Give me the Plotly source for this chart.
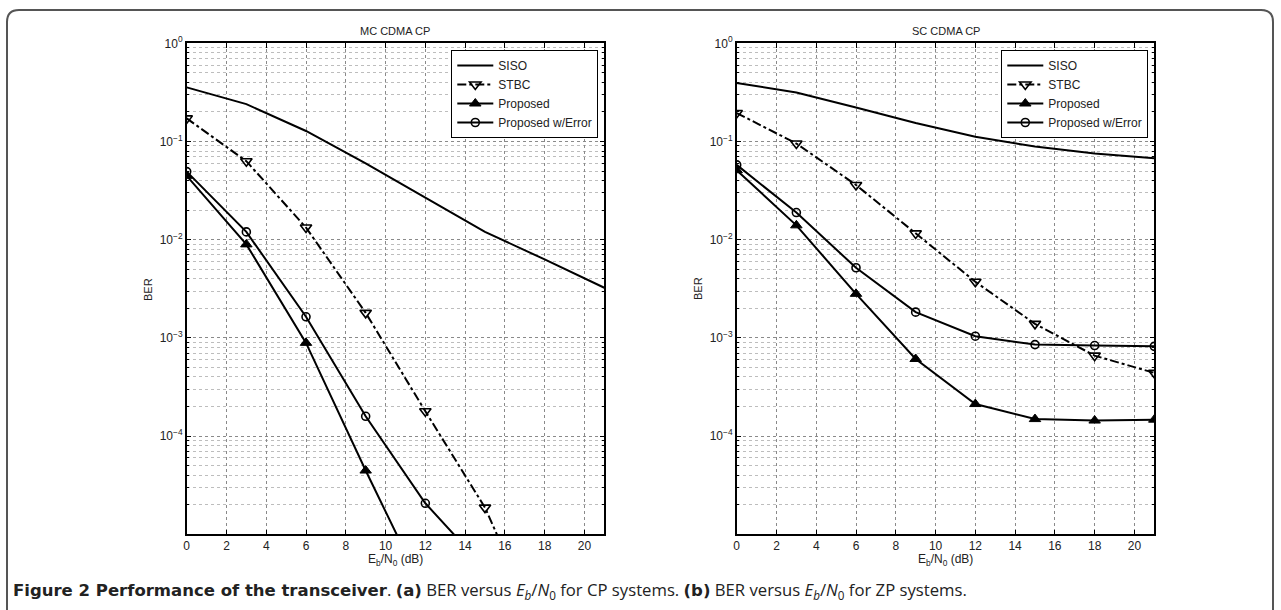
import plotly.graph_objects as go

FW, FH = 1281, 610

# ---------------- data ----------------
ebn0 = [0, 3, 6, 9, 12, 15, 18, 21]

# (a) MC CDMA CP
mc_siso = [0.356, 0.240, 0.128, 0.060, 0.0268, 0.0120, 0.0063, 0.00324]
mc_stbc = [0.172, 0.063, 0.0133, 0.0018, 1.79e-4, 1.87e-5, 8e-7]
mc_prop = [0.0447, 0.00896, 8.9e-4, 4.46e-5, 2.5e-6]
mc_err = [0.0494, 0.0120, 1.64e-3, 1.59e-4, 2.07e-5, 4.5e-6]

# (b) SC CDMA CP
sc_siso = [0.394, 0.316, 0.222, 0.154, 0.1116, 0.089, 0.0755, 0.0676]
sc_stbc = [0.195, 0.0954, 0.0361, 0.0116, 0.00373, 0.00139, 6.6e-4, 4.4e-4]
sc_prop = [0.051, 0.0140, 2.81e-3, 6.1e-4, 2.12e-4, 1.49e-4, 1.44e-4, 1.47e-4]
sc_err = [0.0578, 0.0189, 5.18e-3, 1.83e-3, 1.04e-3, 8.55e-4, 8.36e-4, 8.2e-4]

series_names = ["SISO", "STBC", "Proposed", "Proposed w/Error"]
titles = ["MC CDMA CP", "SC CDMA CP"]
x_ticks = [0, 2, 4, 6, 8, 10, 12, 14, 16, 18, 20]
y_ticks = [1, 0.1, 0.01, 0.001, 0.0001]
y_ticktext = ["10<sup>0</sup>", "10<sup>−1</sup>", "10<sup>−2</sup>",
              "10<sup>−3</sup>", "10<sup>−4</sup>"]

# ---------------- helpers (screen pixel -> paper fraction) ----------------
def px(x):
    return x / FW

def py(y):
    return 1 - y / FH

FONT = "Liberation Sans, Arial, sans-serif"

fig = go.Figure()

styles = [
    dict(line=dict(color="black", width=2, dash="solid"), mode="lines"),
    dict(line=dict(color="black", width=2, dash="dashdot"), mode="lines+markers",
         marker=dict(symbol="triangle-down-open", size=10, color="black",
                     line=dict(width=1.6, color="black"))),
    dict(line=dict(color="black", width=2, dash="solid"), mode="lines+markers",
         marker=dict(symbol="triangle-up", size=10, color="black",
                     line=dict(width=1, color="black"))),
    dict(line=dict(color="black", width=2, dash="solid"), mode="lines+markers",
         marker=dict(symbol="circle-open", size=8, color="black",
                     line=dict(width=1.6, color="black"))),
]

panels = [
    ("x", "y", "legend", [mc_siso, mc_stbc, mc_prop, mc_err]),
    ("x2", "y2", "legend2", [sc_siso, sc_stbc, sc_prop, sc_err]),
]

for xa, ya, lg, data in panels:
    for name, vals, st in zip(series_names, data, styles):
        fig.add_trace(go.Scatter(
            x=ebn0[:len(vals)], y=vals, name=name, xaxis=xa, yaxis=ya,
            legend=lg, cliponaxis=True, **st))

# ---------------- axes ----------------
minor_vals = [k * 10 ** e for e in range(-5, 0) for k in range(2, 10)]
ydom = [py(534.3), py(43.3)]
xdoms = [[px(186.7), px(604.3)], [px(736.7), px(1154.3)]]

grid = dict(showgrid=True, gridcolor="#8a8a8a", griddash="dot", gridwidth=1)
common = dict(showline=True, linecolor="black", linewidth=1.5, mirror="allticks",
              ticks="inside", ticklen=5, tickcolor="black", tickwidth=1,
              tickfont=dict(family=FONT, size=12, color="#222"), zeroline=False,
              automargin=False)

for i, xd in enumerate(xdoms):
    sfx = "" if i == 0 else str(i + 1)
    fig.update_layout(**{
        "xaxis" + sfx: dict(domain=xd, range=[0, 21], tickvals=x_ticks,
                            anchor="y" + sfx, **grid, **common),
        "yaxis" + sfx: dict(domain=ydom, type="log", range=[-5, 0],
                            tickvals=y_ticks, ticktext=y_ticktext,
                            anchor="x" + sfx,
                            minor=dict(tickvals=minor_vals, ticks="inside",
                                       ticklen=3, tickcolor="black",
                                       showgrid=True, gridcolor="#bdbdbd",
                                       griddash="dot", gridwidth=1),
                            **grid, **common),
    })

# ---------------- legends ----------------
leg_common = dict(xanchor="right", yanchor="top", bgcolor="white",
                  bordercolor="black", borderwidth=1,
                  font=dict(family=FONT, size=12, color="#222"),
                  itemwidth=36, tracegroupgap=0)
fig.update_layout(
    legend=dict(x=px(598.3), y=py(50), **leg_common),
    legend2=dict(x=px(1148.3), y=py(50), **leg_common),
)

# ---------------- annotations ----------------
ann = []
for i, xd in enumerate(xdoms):
    cx = (xd[0] + xd[1]) / 2
    ann.append(dict(text=titles[i], x=cx, y=py(31), xref="paper", yref="paper",
                    showarrow=False, xanchor="center", yanchor="middle",
                    font=dict(family=FONT, size=11, color="#222")))
    ann.append(dict(text="E<sub>b</sub>/N<sub>0</sub> (dB)", x=cx, y=py(560),
                    xref="paper", yref="paper", showarrow=False,
                    xanchor="center", yanchor="middle",
                    font=dict(family=FONT, size=12, color="#222")))
    ann.append(dict(text="BER", x=xd[0] - px(38.7), y=py(289), xref="paper",
                    yref="paper", showarrow=False, textangle=-90,
                    xanchor="center", yanchor="middle",
                    font=dict(family=FONT, size=11, color="#222")))

BOLD = '<span style="font-family:DejaVu Sans;font-size:16.5px"><b>{}</b></span>'
caption = (BOLD.format("Figure 2 Performance of the transceiver")
           + ". " + BOLD.format("(a)") + " BER versus "
           "<i>E<sub>b</sub></i>/<i>N</i><sub>0</sub> for CP systems. "
           + BOLD.format("(b)") + " BER versus "
           "<i>E<sub>b</sub></i>/<i>N</i><sub>0</sub> for ZP systems.")
ann.append(dict(text=caption, x=px(11), y=py(590), xref="paper", yref="paper",
                showarrow=False, xanchor="left", yanchor="middle",
                font=dict(family="Open Sans, sans-serif", size=16.7, color="#222")))

# figure frame (rounded rectangle)
r = 12
L, T, R, B = 7, 10, 1273, 640
frame = (f"M {px(L)},{py(B)} L {px(L)},{py(T + r)} "
         f"Q {px(L)},{py(T)} {px(L + r)},{py(T)} "
         f"L {px(R - r)},{py(T)} Q {px(R)},{py(T)} {px(R)},{py(T + r)} "
         f"L {px(R)},{py(B)}")

fig.update_layout(
    width=FW, height=FH, autosize=False,
    margin=dict(l=0, r=0, t=0, b=0, pad=0, autoexpand=False),
    paper_bgcolor="white", plot_bgcolor="white",
    annotations=ann,
    shapes=[dict(type="path", path=frame, xref="paper", yref="paper",
                 line=dict(color="#555", width=2))],
    showlegend=True,
)

fig.write_html("out.html")
